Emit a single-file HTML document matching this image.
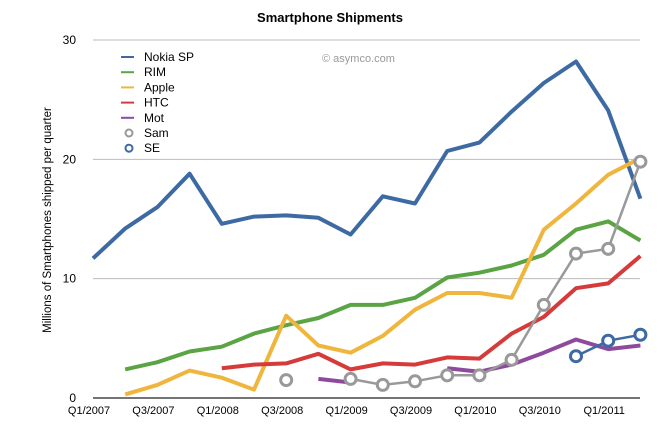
<!DOCTYPE html>
<html><head><meta charset="utf-8"><style>
body{margin:0;background:#fff;}
svg{display:block;font-family:"Liberation Sans",sans-serif;}
</style></head><body>
<svg id="chart" width="660" height="426">
<text x="330" y="22" text-anchor="middle" font-size="13" font-weight="bold">Smartphone Shipments</text>
<text x="322" y="62" font-size="11" fill="#999">© asymco.com</text>
<text transform="translate(51,220) rotate(-90)" text-anchor="middle" font-size="11.5">Millions of Smartphones shipped per quarter</text>
<g id="grid"></g><g id="series"></g><g id="legend"></g>
</svg>
<script>
const categories=["Q1/2007","Q2/2007","Q3/2007","Q4/2007","Q1/2008","Q2/2008","Q3/2008","Q4/2008","Q1/2009","Q2/2009","Q3/2009","Q4/2009","Q1/2010","Q2/2010","Q3/2010","Q4/2010","Q1/2011","Q2/2011"];
const yTicks=[0,10,20,30];
const nokia=[11.7,14.2,16.0,18.8,14.6,15.2,15.3,15.1,13.7,16.9,16.3,20.7,21.4,24.0,26.4,28.2,24.1,16.7];
const rim=[null,2.4,3.0,3.9,4.3,5.4,6.1,6.7,7.8,7.8,8.4,10.1,10.5,11.1,12.0,14.1,14.8,13.2];
const apple=[null,0.3,1.1,2.3,1.7,0.7,6.9,4.4,3.8,5.2,7.4,8.8,8.8,8.4,14.1,16.3,18.7,20.1];
const htc=[null,null,null,null,2.5,2.8,2.9,3.7,2.4,2.9,2.8,3.4,3.3,5.4,6.8,9.2,9.6,11.9];
const mot=[null,null,null,null,null,null,null,1.6,1.3,null,null,2.5,2.2,2.8,3.8,4.9,4.1,4.4];
const sam=[null,null,null,null,null,null,1.5,null,1.6,1.1,1.4,1.9,1.9,3.2,7.8,12.1,12.5,19.8];
const se=[null,null,null,null,null,null,null,null,null,null,null,null,null,null,null,3.5,4.8,5.3];
const seriesNames=["Nokia SP","RIM","Apple","HTC","Mot","Sam","SE"];
const seriesData=[nokia,rim,apple,htc,mot,sam,se];
const colors=["#3d6aa3","#5aa444","#efb63e","#d63b3b","#8e4b9e","#999999","#3d6aa3"];
const markers=[false,false,false,false,false,true,true];
const NS="http://www.w3.org/2000/svg";
const x0=93,dx=32.2,yBase=398,yTop=40,yMax=30;
const xs=i=>x0+i*dx;
const ys=v=>yBase-(v/yMax)*(yBase-yTop);
function mk(tag,attrs,parent){const e=document.createElementNS(NS,tag);for(const k in attrs)e.setAttribute(k,attrs[k]);parent.appendChild(e);return e;}
const grid=document.getElementById('grid');
yTicks.forEach(t=>{
  const l=mk('line',{x1:93,x2:640,y1:ys(t),y2:ys(t),stroke:t===0?'#222':'#bbb','stroke-width':t===0?1.2:1},grid);
  
  
  const tx=mk('text',{x:76,y:ys(t)+4,'text-anchor':'end','font-size':12},grid);
  tx.textContent=t;
  
  
});
categories.forEach((c,i)=>{
  if(i%2)return;
  const tx=mk('text',{x:xs(i)-4,y:414,'text-anchor':'middle','font-size':11},grid);
  tx.textContent=c;
  
  
});
const sg=document.getElementById('series');
seriesData.forEach((d,s)=>{
  const g=mk('g',{},sg);
  
  
  let path='',pen=false;
  d.forEach((v,i)=>{if(v==null){pen=false;return;}path+=(pen?'L':'M')+xs(i).toFixed(1)+','+ys(v).toFixed(1);pen=true;});
  const p=mk('path',{d:path,fill:'none',stroke:colors[s],'stroke-width':markers[s]?2.5:4,'stroke-linejoin':'round'},g);
  
  
  if(markers[s])d.forEach((v,i)=>{if(v==null)return;
    const c=mk('circle',{cx:xs(i),cy:ys(v),r:5.5,fill:'#fff',stroke:colors[s],'stroke-width':3},g);
    
    
  });
});
const lg=document.getElementById('legend');
seriesNames.forEach((n,s)=>{
  const y=57+s*15.2;
  const g=mk('g',{},lg);
  
  
  if(markers[s])mk('circle',{cx:129,cy:y,r:3.5,fill:'#fff',stroke:colors[s],'stroke-width':2},g);
  else mk('line',{x1:121,x2:134,y1:y,y2:y,stroke:colors[s],'stroke-width':2},g);
  const t=mk('text',{x:144,y:y+4,'font-size':12},g);t.textContent=n;
});
</script>
</body></html>
